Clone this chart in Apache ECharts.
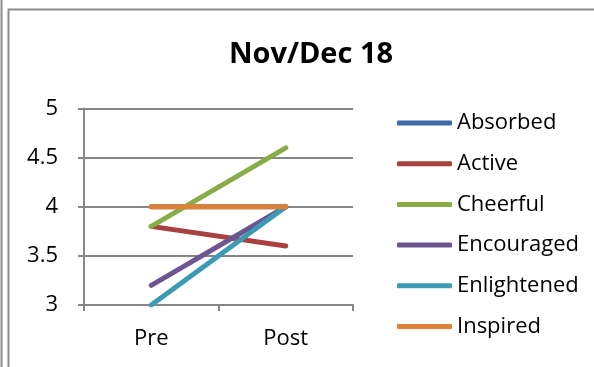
<!DOCTYPE html>
<html>
<head>
<meta charset="utf-8">
<script src="https://cdn.jsdelivr.net/npm/echarts@6/dist/echarts.min.js"></script>
<style>
  html, body { margin: 0; padding: 0; background: #ffffff; }
  #chart { width: 594px; height: 367px; }
</style>
</head>
<body>
<div id="chart"></div>
<script>
// Survey ratings before and after the session
const chartTitle = 'Nov/Dec 18';
const categories = ['Pre', 'Post'];
const seriesNames = ['Absorbed', 'Active', 'Cheerful', 'Encouraged', 'Enlightened', 'Inspired'];
const absorbed = [4, 4];
const active = [3.8, 3.6];
const cheerful = [3.8, 4.6];
const encouraged = [3.2, 4];
const enlightened = [3, 4];
const inspired = [4, 4];
const yTicks = { min: 3, max: 5, interval: 0.5 };

const values = [absorbed, active, cheerful, encouraged, enlightened, inspired];
const colors = ['#3e6ca8', '#a8423f', '#89ac47', '#6d5592', '#3d9ab4', '#de8036'];
const font = '"Open Sans", "Liberation Sans", sans-serif';
const axisGray = '#878787';

const chart = echarts.init(document.getElementById('chart'), null, { renderer: 'canvas' });

chart.setOption({
  animation: false,
  backgroundColor: '#ffffff',
  title: {
    text: chartTitle,
    left: 306,
    textAlign: 'center',
    top: 35,
    textStyle: { fontFamily: font, fontWeight: 'bold', fontSize: 29, color: '#000000' }
  },
  grid: { left: 84, right: 241, top: 108.5, bottom: 62, containLabel: false },
  xAxis: {
    type: 'category',
    data: categories,
    boundaryGap: true,
    axisLine: { lineStyle: { color: axisGray, width: 2 } },
    axisTick: { show: true, length: 6, inside: false, alignWithLabel: false, lineStyle: { color: axisGray, width: 2 } },
    axisLabel: { margin: 23, fontFamily: font, fontSize: 22, color: '#000000' },
    splitLine: { show: false }
  },
  yAxis: {
    type: 'value',
    min: yTicks.min,
    max: yTicks.max,
    interval: yTicks.interval,
    axisLine: { show: true, lineStyle: { color: axisGray, width: 2 } },
    axisTick: { show: true, length: 6, inside: false, lineStyle: { color: axisGray, width: 2 } },
    axisLabel: {
      margin: 26, fontFamily: font, fontSize: 22, color: '#000000',
      formatter: v => String(v)
    },
    splitLine: { show: true, lineStyle: { color: axisGray, width: 2 } }
  },
  legend: {
    orient: 'vertical',
    left: 397,
    top: 112,
    padding: 0,
    itemWidth: 55,
    itemHeight: 5,
    itemGap: 18.7,
    icon: 'roundRect',
    data: seriesNames,
    textStyle: { fontFamily: font, fontSize: 22, lineHeight: 22, color: '#000000' }
  },
  series: seriesNames.map((name, i) => ({
    name,
    type: 'line',
    data: values[i],
    showSymbol: false,
    symbol: 'none',
    z: 2 + i,
    color: colors[i],
    lineStyle: { width: 5, color: colors[i], cap: 'round', join: 'round' }
  })),
  graphic: [
    {
      type: 'line', silent: true,
      shape: { x1: 1.5, y1: 0, x2: 1.5, y2: 367 },
      style: { stroke: '#8c8c8c', lineWidth: 2 }
    },
    {
      type: 'polyline', silent: true,
      shape: { points: [[8.5, 367], [8.5, 9.5], [594, 9.5]] },
      style: { stroke: '#8c8c8c', lineWidth: 2, fill: null }
    }
  ]
});
</script>
</body>
</html>
